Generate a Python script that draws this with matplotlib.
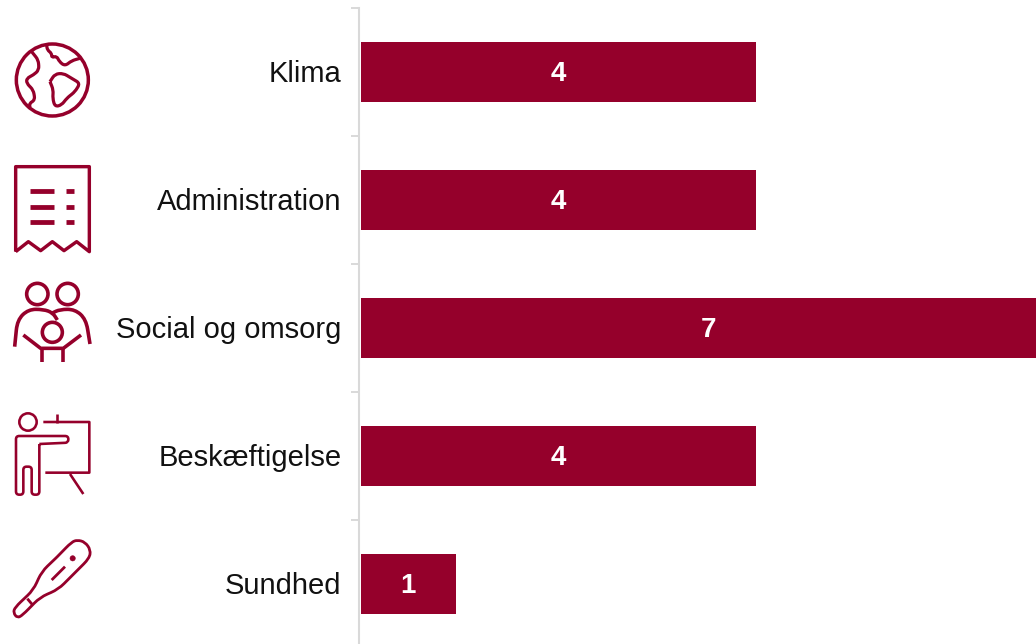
import matplotlib
matplotlib.use('Agg')
import matplotlib.pyplot as plt
from matplotlib.patches import Circle, PathPatch
from matplotlib.path import Path
from matplotlib.transforms import ScaledTranslation
import numpy as np

W, H = 1036, 644
RED = '#95002b'
GREY = '#d9d9d9'

categories = ['Klima', 'Administration', 'Social og omsorg', 'Beskæftigelse', 'Sundhed']
values = [4, 4, 7, 4, 1]

plt.rcParams['font.family'] = ['Liberation Sans', 'DejaVu Sans']

fig = plt.figure(figsize=(W / 100, H / 100), dpi=100)

# axes run past the right and bottom of the figure, like the cropped original
UNIT = 99.875
XMAX = 7.5
ax = fig.add_axes([358.5 / W, -4 / H, XMAX * UNIT / W, 640 / H])
bars = ax.barh(range(len(values)), values, height=63.5 / 128, color=RED,
               edgecolor='white', linewidth=4 * 0.72)
ax.set_xlim(0, XMAX)
ax.set_ylim(4.5, -0.5)
ax.set_xticks([])
ax.set_yticks(range(len(categories)))
ax.set_yticklabels(categories, fontsize=21, color='#111111')
ax.set_yticks([i - 0.5 for i in range(len(categories) + 1)], minor=True)
ax.tick_params(axis='y', which='major', length=0, pad=12.2)
ax.tick_params(axis='y', which='minor', length=6, width=1.4, color=GREY)
for side in ['top', 'right', 'bottom']:
    ax.spines[side].set_visible(False)
ax.spines['left'].set_color(GREY)
ax.spines['left'].set_linewidth(1.5)
# the category labels sit slightly higher than matplotlib centres them
lift = ScaledTranslation(0, 1.0 / 72, fig.dpi_scale_trans)
for lab in ax.get_yticklabels():
    lab.set_transform(lab.get_transform() + lift)
for lab in ax.bar_label(bars, label_type='center', color='white', fontsize=20, fontweight='bold'):
    lab.xyann = (0, -1.5)

# overlay in pixel coordinates for the icons
icons = fig.add_axes([0, 0, 1, 1])
icons.set_xlim(0, W)
icons.set_ylim(H, 0)
icons.axis('off')


def stroke(points, y0, lw=3.0, r=0):
    # polyline from zoomed crop coordinates, corners rounded with radius r
    pts = [np.array([p[0] / 3, y0 + p[1] / 3]) for p in points]
    verts = [pts[0]]
    codes = [Path.MOVETO]
    for i in range(1, len(pts) - 1):
        a, b, c = pts[i - 1], pts[i], pts[i + 1]
        d1 = min(r, np.linalg.norm(b - a) / 2)
        d2 = min(r, np.linalg.norm(c - b) / 2)
        p1 = b + (a - b) / max(np.linalg.norm(a - b), 1e-6) * d1
        p2 = b + (c - b) / max(np.linalg.norm(c - b), 1e-6) * d2
        verts += [p1, b, p2]
        codes += [Path.LINETO, Path.CURVE3, Path.CURVE3]
    verts.append(pts[-1])
    codes.append(Path.LINETO)
    icons.add_patch(PathPatch(Path(verts, codes), fill=False, edgecolor=RED, lw=lw * 0.72,
                              joinstyle='round', capstyle='butt'))


def ring(x, y, r, y0, lw=3.0, fill=False):
    icons.add_patch(Circle((x / 3, y0 + y / 3), r / 3, fill=fill, facecolor=RED,
                           edgecolor=RED, lw=lw * 0.72))


# globe
ring(157, 180, 108, 20, 3.5)
stroke([(140, 75), (142, 90), (155, 100), (155, 113), (170, 108), (178, 125), (195, 138),
        (215, 122), (240, 115)], 20, 3.2, 4)
stroke([(95, 95), (115, 120), (117, 150), (100, 165), (80, 175), (80, 190), (100, 210),
        (105, 240), (88, 250), (90, 262)], 20, 3.2, 4)
stroke([(150, 185), (165, 162), (190, 160), (215, 175), (240, 190), (225, 215), (200, 235),
        (185, 255), (165, 260), (158, 235), (160, 210), (150, 185)], 20, 3.2, 4)

# receipt
stroke([(47, 695), (47, 440), (268, 440), (268, 695), (230, 665), (192, 692), (157, 665),
        (122, 692), (85, 665), (47, 695)], 20, 3.4)
for y in [514, 560, 606]:
    stroke([(90, y), (162, y)], 20, 4.8)
    stroke([(198, y), (222, y)], 20, 4.8)

# family
ring(112, 72, 32, 270, 3.6)
ring(203, 72, 32, 270, 3.6)
ring(157, 187, 30, 270, 3.6)
stroke([(44, 230), (52, 150), (85, 118), (130, 118), (158, 128), (172, 150)], 270, 3.6, 10)
stroke([(155, 130), (180, 118), (225, 118), (258, 148), (270, 222)], 270, 3.6, 10)
stroke([(70, 195), (122, 235), (190, 235), (243, 195)], 270, 3.6)
stroke([(125, 235), (125, 275)], 270, 3.6)
stroke([(188, 235), (188, 275)], 270, 3.6)

# teacher at a board
ring(84, 456, 26, 270, 2.6)
stroke([(130, 456), (268, 456), (268, 608), (136, 608)], 270, 2.6)
stroke([(170, 432), (170, 460)], 270, 2.6)
stroke([(210, 612), (250, 672)], 270, 2.6)
stroke([(118, 522), (205, 518), (205, 498), (48, 498), (48, 674), (70, 674), (70, 590),
        (95, 590), (95, 674), (118, 674), (118, 522)], 270, 2.6, 3.2)

# thermometer
stroke([(170, 172), (215, 126), (232, 120), (255, 126), (272, 150), (268, 175), (175, 268),
        (120, 292), (68, 345), (52, 354), (40, 338), (45, 322), (100, 270), (125, 215),
        (170, 172)], 500, 2.8, 8)
stroke([(82, 296), (98, 315)], 500, 2.8)
stroke([(155, 240), (195, 200)], 500, 2.8)
ring(218, 175, 8, 500, 0.5, fill=True)

fig.savefig('out.png', dpi=100)
